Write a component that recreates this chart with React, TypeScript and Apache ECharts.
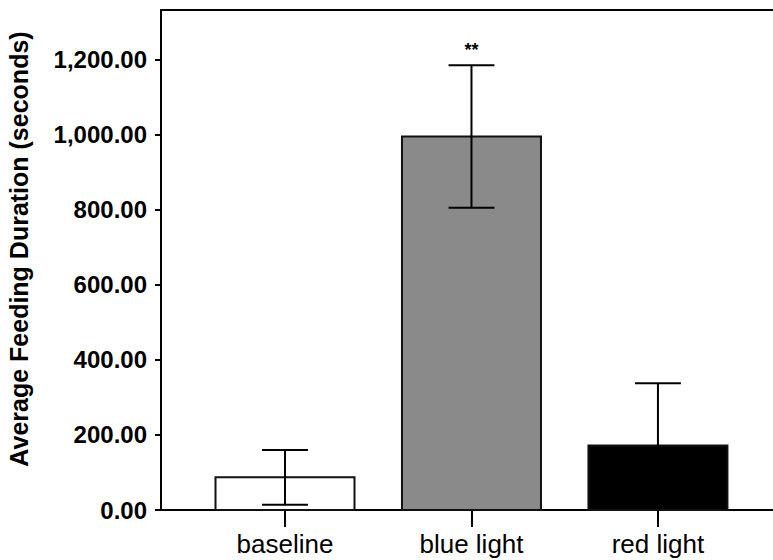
import React, { useEffect, useRef } from "react";
import * as echarts from "echarts";

const categories = ["baseline", "blue light", "red light"];
const means = [87, 996, 172];
const errors = [73, 190, 166];
const sigLabels = ["", "**", ""];
const barColors = ["#ffffff", "#8a8a8a", "#000000"];
const yTitle = "Average Feeding Duration (seconds)";

const FONT = "'Liberation Sans', Arial, Helvetica, sans-serif";

export default function App() {
  const ref = useRef<HTMLDivElement>(null);
  useEffect(() => {
    if (!ref.current) return;
    const chart = echarts.init(ref.current, undefined, { renderer: "svg" });
    const catIdx = categories.map((_, i) => i);
    const barHalf = 0.3727;
    const capHalf = 0.123;
    const option: any = {
      animation: false,
      backgroundColor: "#ffffff",
      grid: { left: 161, top: 10, right: 0, bottom: 50, containLabel: false },
      xAxis: [
        {
          type: "value",
          min: -0.665,
          max: 2.617,
          position: "bottom",
          splitLine: { show: false },
          axisLine: { show: true, onZero: false, lineStyle: { color: "#000", width: 2 } },
          axisTick: {
            show: true,
            customValues: catIdx,
            length: 17,
            inside: false,
            lineStyle: { color: "#000", width: 2 },
          },
          axisLabel: {
            show: true,
            customValues: catIdx,
            formatter: (v: number) => categories[Math.round(v)] ?? "",
            color: "#000",
            fontFamily: FONT,
            fontSize: 26,
            margin: 21,
          },
        },
        {
          type: "value",
          min: -0.665,
          max: 2.617,
          position: "top",
          splitLine: { show: false },
          axisLine: { show: true, onZero: false, lineStyle: { color: "#000", width: 2 } },
          axisTick: { show: false },
          axisLabel: { show: false },
        },
      ],
      yAxis: {
        type: "value",
        min: 0,
        max: 1333,
        interval: 200,
        position: "left",
        splitLine: { show: false },
        axisLine: { show: true, onZero: false, lineStyle: { color: "#000", width: 2 } },
        axisTick: { show: true, length: 6, lineStyle: { color: "#000", width: 2 } },
        axisLabel: {
          showMaxLabel: false,
          color: "#000",
          fontFamily: FONT,
          fontWeight: "bold",
          fontSize: 24,
          margin: 14,
          formatter: (v: number) =>
            v.toLocaleString("en-US", { minimumFractionDigits: 2, maximumFractionDigits: 2 }),
        },
      },
      graphic: [
        {
          type: "text",
          x: 19,
          y: 249,
          rotation: Math.PI / 2,
          style: {
            text: yTitle,
            fill: "#000",
            font: `bold 25px ${FONT}`,
            textAlign: "center",
            textVerticalAlign: "middle",
          },
        },
      ],
      series: [
        {
          type: "custom",
          xAxisIndex: 0,
          data: catIdx.map((i) => [i, means[i]]),
          renderItem: (params: any, api: any) => {
            const x = api.value(0);
            const v = api.value(1);
            const p1 = api.coord([x - barHalf, v]);
            const p2 = api.coord([x + barHalf, 0]);
            return {
              type: "rect",
              shape: { x: p1[0], y: p1[1], width: p2[0] - p1[0], height: p2[1] - p1[1] },
              style: { fill: barColors[params.dataIndex], stroke: "#111", lineWidth: 2 },
            };
          },
          z: 2,
        },
        {
          type: "custom",
          xAxisIndex: 0,
          data: catIdx.map((i) => [i, means[i] - errors[i], means[i] + errors[i]]),
          renderItem: (params: any, api: any) => {
            const x = api.value(0);
            const lo = api.value(1);
            const hi = api.value(2);
            const top = api.coord([x, hi]);
            const bot = api.coord([x, lo]);
            const tl = api.coord([x - capHalf, hi]);
            const tr = api.coord([x + capHalf, hi]);
            const bl = api.coord([x - capHalf, lo]);
            const br = api.coord([x + capHalf, lo]);
            const ls = { stroke: "#000", lineWidth: 2 };
            const children: any[] = [
              { type: "line", shape: { x1: top[0], y1: top[1], x2: bot[0], y2: bot[1] }, style: ls },
              { type: "line", shape: { x1: tl[0], y1: tl[1], x2: tr[0], y2: tr[1] }, style: ls },
              { type: "line", shape: { x1: bl[0], y1: bl[1], x2: br[0], y2: br[1] }, style: ls },
            ];
            const s = sigLabels[params.dataIndex];
            if (s) {
              children.push({
                type: "text",
                x: top[0],
                y: top[1] - 15,
                style: {
                  text: s,
                  fill: "#000",
                  font: `bold 18px ${FONT}`,
                  textAlign: "center",
                  textVerticalAlign: "middle",
                },
              });
            }
            return { type: "group", children };
          },
          z: 3,
        },
      ],
    };
    chart.setOption(option);
    return () => chart.dispose();
  }, []);
  return (
    <div
      ref={ref}
      style={{ position: "fixed", left: 0, top: 0, width: 773, height: 560 }}
    />
  );
}
